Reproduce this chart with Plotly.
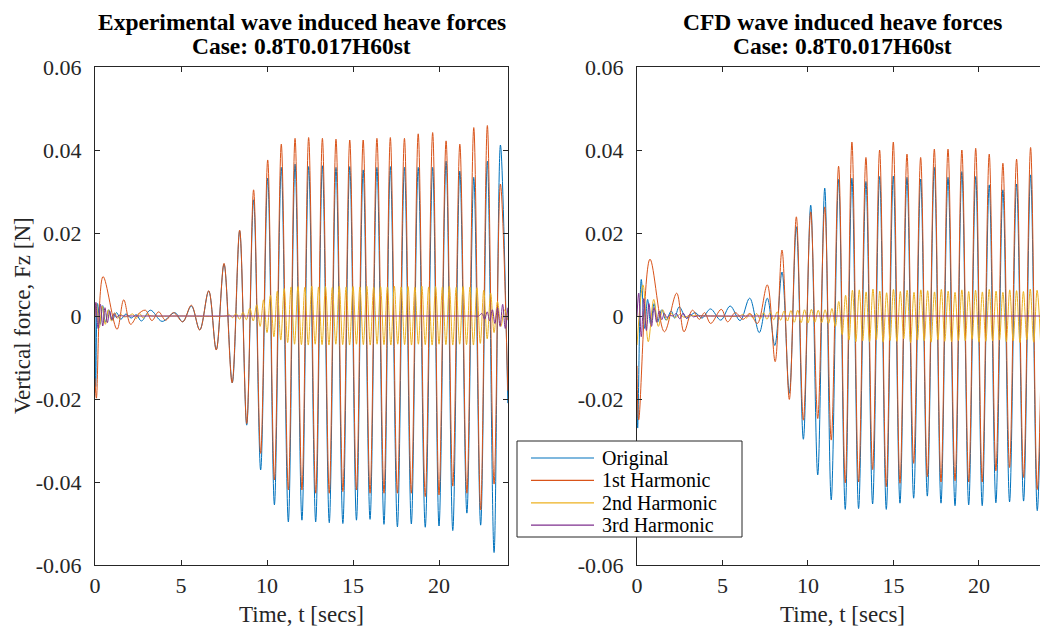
import plotly.graph_objects as go

# ---------------- data (extrema) ----------------
# Experimental (left panel)
exp_orig_t = [0.0, 0.04, 0.15, 0.3, 0.45, 0.6, 0.8, 1.0, 1.25, 1.5, 1.8, 2.1, 2.4, 2.7, 3.22,
              3.9, 4.64, 5.1, 5.6, 6.09, 6.61, 7.05, 7.5, 7.98, 8.41, 8.82, 9.22, 9.63, 10.04, 10.43,
              10.83, 11.24, 11.63, 12.03, 12.42, 12.83, 13.22, 13.62, 14.01, 14.41, 14.81, 15.2, 15.59,
              15.99, 16.39, 16.8, 17.17, 17.58, 17.99, 18.39, 18.79, 19.2, 19.63, 20.0, 20.41, 20.8,
              21.21, 21.62, 22.02, 22.42, 22.81, 23.2, 23.57, 24.0]
exp_orig_v = [0.002, -0.017, 0.003, -0.002, 0.0025, -0.0015, 0.0015, -0.001, 0.0008, -0.0008,
              0.0005, -0.0005, 0.0003, -0.0012, 0.0014, -0.0013, 0.0008, -0.0014, 0.0024, -0.0033,
              0.006, -0.0081, 0.0125, -0.0161, 0.0205, -0.0263, 0.028, -0.0371, 0.0332, -0.0455,
              0.0358, -0.0496, 0.0366, -0.0492, 0.036, -0.0496, 0.0362, -0.0498, 0.0358, -0.05,
              0.036, -0.0492, 0.0352, -0.049, 0.0358, -0.0502, 0.036, -0.0508, 0.0358, -0.0501,
              0.0358, -0.0509, 0.0358, -0.0506, 0.0373, -0.0517, 0.0349, -0.0475, 0.0334, -0.0504,
              0.0373, -0.057, 0.0412, -0.021]

exp_h1_t = [0.0, 0.08, 0.47, 1.28, 1.67, 2.07, 2.5, 2.93, 3.31, 3.7, 4.1, 4.57, 5.1, 5.6, 6.09,
            6.61, 7.05, 7.5, 7.97, 8.41, 8.82, 9.22, 9.63, 10.04, 10.43, 10.83, 11.24, 11.63, 12.03,
            12.42, 12.83, 13.22, 13.62, 14.01, 14.41, 14.81, 15.2, 15.59, 15.99, 16.39, 16.8, 17.17,
            17.58, 17.99, 18.39, 18.79, 19.2, 19.63, 20.0, 20.41, 20.8, 21.21, 21.62, 22.02, 22.42,
            22.81, 23.2, 23.57, 24.0]
exp_h1_v = [-0.015, -0.0198, 0.0095, -0.0032, 0.0039, -0.002, 0.0004, 0.0014, -0.0011, 0.001,
            -0.001, 0.0008, -0.0014, 0.0026, -0.0034, 0.0061, -0.0082, 0.0127, -0.0161, 0.0207,
            -0.0259, 0.0304, -0.0331, 0.0376, -0.0395, 0.0414, -0.0419, 0.0428, -0.0419, 0.043,
            -0.0427, 0.0428, -0.0427, 0.0426, -0.0423, 0.0424, -0.0419, 0.0424, -0.0427, 0.0428,
            -0.0427, 0.043, -0.0427, 0.0428, -0.0427, 0.0439, -0.0435, 0.0442, -0.0431, 0.0422,
            -0.041, 0.0414, -0.0427, 0.0454, -0.0467, 0.0459, -0.0405, 0.0318, -0.018]

exp_h2_t = [0.0, 0.08, 0.25, 0.42, 0.6, 0.78, 0.96, 1.14, 1.32, 1.5, 1.7, 1.95, 2.2, 2.4, 2.6,
            2.8, 3.0, 3.3, 5.0, 7.6,
            7.8, 8.0, 8.2, 8.4, 8.6, 8.8, 9.0, 9.2, 9.4, 9.6, 9.8, 10.0, 10.2, 10.4, 10.6, 10.8,
            11.0, 11.2,
            11.4, 11.6, 11.8, 12.0, 12.2, 12.4, 12.6, 12.8, 13.0, 13.2, 13.4, 13.6, 13.8, 14.0,
            14.2, 14.4, 14.6, 14.8, 15.0, 15.2, 15.4, 15.6, 15.8, 16.0, 16.2, 16.4, 16.6, 16.8,
            17.0, 17.2, 17.4, 17.6, 17.8, 18.0, 18.2, 18.4, 18.6, 18.8, 19.0, 19.2, 19.4, 19.6,
            19.8, 20.0, 20.2, 20.4, 20.6, 20.8, 21.0, 21.2, 21.4, 21.6, 21.8, 22.0, 22.2, 22.4,
            22.6, 22.8, 23.0, 23.2, 23.4, 23.6, 23.8, 24.0]
exp_h2_v = [0.0, 0.003, -0.0028, 0.0024, -0.002, 0.0015, -0.0012, 0.0008, -0.0006, 0.0004,
            -0.0002, 0.0, 0.0005, -0.0006, 0.0006, -0.0005, 0.0003, 0.0, 0.0, 0.0,
            0.0003, -0.0004, 0.0006, -0.0008, 0.0009, -0.0009, 0.0019, -0.0012, 0.0027, -0.0025,
            0.0039, -0.004, 0.005, -0.005, 0.006, -0.0058, 0.0066, -0.0064,
            0.0070, -0.0068, 0.0071, -0.0069, 0.0069, -0.0070, 0.0072, -0.0068, 0.0070, -0.0069,
            0.0071, -0.0070, 0.0069, -0.0068, 0.0072, -0.0069, 0.0070, -0.0070, 0.0071, -0.0068,
            0.0070, -0.0069, 0.0072, -0.0070, 0.0069, -0.0068, 0.0071, -0.0069, 0.0070, -0.0070,
            0.0072, -0.0068, 0.0070, -0.0069, 0.0071, -0.0070, 0.0069, -0.0068, 0.0072, -0.0069,
            0.0070, -0.0070, 0.0071, -0.0068, 0.0070, -0.0069, 0.0072, -0.0070, 0.0069, -0.0068,
            0.0071, -0.0069, 0.0070, -0.0070, 0.0068, -0.0066,
            0.0062, -0.0055, 0.0055, -0.004, 0.0035, -0.0025, 0.0015, -0.001]

exp_h3_t = [0.0, 0.05, 0.18, 0.32, 0.45, 0.58, 0.72, 0.85, 0.98, 1.12, 1.25, 1.4, 1.6, 2.0,
            4.0, 8.0, 12.0, 16.0, 20.0, 22.0, 22.3,
            22.5, 22.65, 22.8, 22.95, 23.1, 23.25, 23.4, 23.55, 23.7, 23.85, 24.0]
exp_h3_v = [0.0, 0.0033, -0.003, 0.0028, -0.0024, 0.002, -0.0016, 0.0012, -0.0009, 0.0006,
            -0.0004, 0.0002, 0.0, 0.0, 0.0, 0.0, 0.0, 0.0, 0.0, 0.0, 0.0,
            0.0006, -0.0008, 0.001, -0.0012, 0.0015, -0.0018, 0.002, -0.0025, 0.0028, -0.003, 0.002]

# CFD (right panel)
cfd_orig_t = [0.0, 0.04, 0.25, 0.45, 0.62, 0.8, 1.0, 1.2, 1.45, 1.7, 2.0, 2.2, 2.47, 2.9, 3.4,
              3.8, 4.3, 4.9, 5.45, 6.03, 6.59, 7.15, 7.62, 8.06, 8.48, 8.91, 9.32, 9.73, 10.16,
              10.57, 10.98, 11.36, 11.79, 12.18, 12.57, 12.96, 13.39, 13.78, 14.19, 14.58, 14.99,
              15.38, 15.79, 16.18, 16.59, 16.98, 17.39, 17.78, 18.19, 18.6, 19.0, 19.4, 19.81,
              20.19, 20.6, 20.99, 21.4, 21.79, 22.2, 22.61, 23.02, 23.41, 23.8]
cfd_orig_v = [-0.018, -0.027, 0.0088, -0.003, 0.004, -0.002, 0.003, -0.0015, 0.0015, -0.001,
              0.0012, -0.0005, 0.0022, -0.0005, 0.0008, -0.0005, 0.0017, -0.001, 0.0024, -0.0011,
              0.0043, -0.004, 0.0043, -0.0071, 0.0106, -0.0186, 0.0215, -0.0297, 0.0267, -0.0383,
              0.0308, -0.0443, 0.0329, -0.0466, 0.0332, -0.0464, 0.0324, -0.0453, 0.0336, -0.0466,
              0.0337, -0.0451, 0.0334, -0.0439, 0.033, -0.0434, 0.0358, -0.0451, 0.0334, -0.0457,
              0.0348, -0.0455, 0.0336, -0.0457, 0.0316, -0.045, 0.0304, -0.0448, 0.0318, -0.0446,
              0.034, -0.0469, 0.028]

cfd_h1_t = [0.0, 0.1, 0.76, 1.6, 2.32, 2.75, 3.24, 3.65, 3.95, 4.31, 4.93, 5.3, 5.75, 6.2, 6.6,
            7.04, 7.62, 8.08, 8.48, 8.91, 9.32, 9.73, 10.16, 10.57, 10.98, 11.36, 11.79, 12.18,
            12.57, 12.96, 13.39, 13.78, 14.19, 14.58, 14.99, 15.38, 15.79, 16.18, 16.59, 16.98,
            17.39, 17.78, 18.19, 18.6, 19.0, 19.4, 19.81, 20.19, 20.6, 20.99, 21.4, 21.79, 22.2,
            22.61, 23.02, 23.41, 23.8]
cfd_h1_v = [-0.012, -0.025, 0.0137, -0.0038, 0.0055, -0.0038, 0.0014, -0.0008, 0.0008, -0.0018,
            0.0016, -0.0014, 0.0008, -0.0008, 0.0006, -0.0018, 0.0075, -0.011, 0.0159, -0.0201,
            0.0239, -0.0251, 0.0251, -0.0247, 0.0263, -0.0299, 0.0361, -0.0402, 0.0419, -0.04,
            0.0382, -0.037, 0.04, -0.0411, 0.0419, -0.0403, 0.039, -0.0355, 0.0382, -0.0387,
            0.0402, -0.04, 0.0402, -0.0397, 0.04, -0.04, 0.0404, -0.04, 0.039, -0.0373,
            0.0368, -0.0365, 0.0378, -0.0389, 0.0406, -0.0418, 0.03]

cfd_h2_t = [0.0, 0.35, 0.66, 0.98, 1.25, 1.5, 1.75, 2.0, 2.25, 2.5, 2.75, 3.0, 4.5, 6.0, 6.2, 6.4,
            6.6, 6.8, 7.0, 7.2, 7.4, 7.6, 7.8, 8.0, 8.2, 8.4, 8.6, 8.8, 9.0, 9.2, 9.4, 9.6, 9.8,
            10.0, 10.2, 10.4, 10.6, 10.8, 11.0, 11.2, 11.4, 11.6, 11.8, 12.0, 12.2, 12.4, 12.6,
            12.8,
            13.0, 13.2, 13.4, 13.6, 13.8, 14.0, 14.2, 14.4, 14.6, 14.8, 15.0, 15.2, 15.4, 15.6,
            15.8, 16.0, 16.2, 16.4, 16.6, 16.8, 17.0, 17.2, 17.4, 17.6, 17.8, 18.0, 18.2, 18.4,
            18.6, 18.8, 19.0, 19.2, 19.4, 19.6, 19.8, 20.0, 20.2, 20.4, 20.6, 20.8, 21.0, 21.2,
            21.4, 21.6, 21.8, 22.0, 22.2, 22.4, 22.6, 22.8, 23.0, 23.2, 23.4, 23.6]
cfd_h2_v = [-0.007, 0.0075, -0.0062, 0.004, -0.0025, 0.0015, -0.001, 0.0006, -0.0004, 0.0004,
            -0.0003, 0.0, 0.0, 0.0, 0.0004, -0.0005, 0.0005, -0.0006, 0.0006, -0.0007, 0.0008,
            -0.0008, 0.0009, -0.0009, 0.001, -0.001, 0.0012, -0.0012, 0.0013, -0.0015, 0.0014,
            -0.0016, 0.0015, -0.0017, 0.0016, -0.0015, 0.0014, -0.0016, 0.0015, -0.0018, 0.0018,
            -0.0025, 0.0035, -0.0045, 0.005, -0.0058, 0.0062, -0.0062,
            0.0063, -0.0060, 0.0058, -0.0062, 0.0065, -0.0057, 0.0060, -0.0063, 0.0056, -0.0059,
            0.0064, -0.0061, 0.0059, -0.0055, 0.0062, -0.0064, 0.0057, -0.0058, 0.0063, -0.0060,
            0.0061, -0.0063, 0.0058, -0.0057, 0.0064, -0.0061, 0.0060, -0.0062, 0.0057, -0.0059,
            0.0063, -0.0060, 0.0059, -0.0056, 0.0062, -0.0063, 0.0058, -0.0061, 0.0064, -0.0060,
            0.0060, -0.0058, 0.0057, -0.0062, 0.0063, -0.0060, 0.0061, -0.0064, 0.0059, -0.0057,
            0.0065, -0.0063, 0.0062, -0.0060]

cfd_h3_t = [0.0, 0.1, 0.25, 0.4, 0.55, 0.7, 0.85, 1.0, 1.15, 1.3, 1.45, 1.6, 1.75, 1.9, 2.1,
            2.3, 2.5, 2.7, 2.9, 3.1, 3.3, 3.5, 4.0, 8.0, 12.0, 16.0, 20.0, 23.8]
cfd_h3_v = [0.0, 0.0055, -0.005, 0.0042, -0.0035, 0.003, -0.0025, 0.002, -0.0015, 0.0012,
            -0.0009, 0.0006, -0.0004, 0.0002, 0.0, 0.0006, -0.0007, 0.0007, -0.0006, 0.0004,
            -0.0002, 0.0, 0.0, 0.0, 0.0, 0.0, 0.0, 0.0]

series_names = ["Original", "1st Harmonic", "2nd Harmonic", "3rd Harmonic"]
series_colors = ["#0072BD", "#D95319", "#EDB120", "#7E2F8E"]

panel_titles = ["Experimental wave induced heave forces", "CFD wave induced heave forces"]
case_label = "Case: 0.8T0.017H60st"
x_title = "Time, t [secs]"
y_title = "Vertical force, Fz [N]"

x_tickvals = [0, 5, 10, 15, 20]
x_ticktext = ["0", "5", "10", "15", "20"]
y_tickvals = [-0.06, -0.04, -0.02, 0.0, 0.02, 0.04, 0.06]
y_ticktext_left = ["-0.06", "-0.04", "-0.02", "0", "0.02", "0.04", "0.06"]
# on the right panel the -0.04 label is hidden behind the legend box
y_ticktext_right = ["-0.06", "", "-0.02", "0", "0.02", "0.04", "0.06"]

# ---------------- figure ----------------
W, H = 1040, 630
FONT = "Liberation Serif"
AX = "#262626"


def px(x):
    return x / W


def py(y):
    return 1 - y / H


panels = [
    [(exp_orig_t, exp_orig_v), (exp_h1_t, exp_h1_v), (exp_h2_t, exp_h2_v), (exp_h3_t, exp_h3_v)],
    [(cfd_orig_t, cfd_orig_v), (cfd_h1_t, cfd_h1_v), (cfd_h2_t, cfd_h2_v), (cfd_h3_t, cfd_h3_v)],
]

fig = go.Figure()
for p, series in enumerate(panels):
    xa = "x" if p == 0 else "x2"
    ya = "y" if p == 0 else "y2"
    for (t, v), name, col in zip(series, series_names, series_colors):
        assert len(t) == len(v), (name, len(t), len(v))
        fig.add_trace(go.Scatter(
            x=t, y=v, mode="lines", name=name, xaxis=xa, yaxis=ya,
            line=dict(color=col, width=1, shape="spline", smoothing=1.0),
            showlegend=False, hoverinfo="skip"))

y_dom = [py(565), py(67)]
common_x = dict(showgrid=False, zeroline=False, showline=True, linecolor=AX, linewidth=1,
                ticks="inside", ticklen=5, tickwidth=1, tickcolor=AX, automargin=False,
                tickvals=x_tickvals, ticktext=x_ticktext,
                tickfont=dict(family=FONT, size=22, color=AX), ticklabelstandoff=1)
common_y = dict(showgrid=False, zeroline=False, showline=True, linecolor=AX, linewidth=1,
                ticks="inside", ticklen=5, tickwidth=1, tickcolor=AX, automargin=False,
                tickvals=y_tickvals, range=[-0.06, 0.06],
                tickfont=dict(family=FONT, size=22, color=AX), ticklabelstandoff=8)

fig.update_layout(
    template="none",
    font=dict(family=FONT, color=AX),
    width=W, height=H, margin=dict(l=0, r=0, t=0, b=0, pad=0, autoexpand=False),
    paper_bgcolor="white", plot_bgcolor="white", showlegend=False,
    xaxis=dict(domain=[px(95), px(508)], range=[0, 24.01], mirror="ticks", anchor="y", **common_x),
    yaxis=dict(domain=y_dom, mirror="ticks", anchor="x", ticktext=y_ticktext_left, **common_y),
    xaxis2=dict(domain=[px(637), 1.0], range=[0, 23.57], mirror="ticks", anchor="y2", **common_x),
    yaxis2=dict(domain=y_dom, mirror=False, anchor="x2", ticktext=y_ticktext_right, **common_y),
)

ann = []
for cx, title in zip([301.5, 842], panel_titles):
    ann.append(dict(text="<b>" + title + "</b>", x=px(cx), y=py(22), xref="paper", yref="paper",
                    xanchor="center", yanchor="middle", showarrow=False,
                    font=dict(family=FONT, size=23.5, color="black")))
    ann.append(dict(text="<b>" + case_label + "</b>", x=px(cx), y=py(46), xref="paper", yref="paper",
                    xanchor="center", yanchor="middle", showarrow=False,
                    font=dict(family=FONT, size=23.5, color="black")))
    ann.append(dict(text=x_title, x=px(cx), y=py(614), xref="paper", yref="paper",
                    xanchor="center", yanchor="middle", showarrow=False,
                    font=dict(family=FONT, size=23, color=AX)))
ann.append(dict(text=y_title, x=px(22), y=py(316), xref="paper", yref="paper", textangle=-90,
                xanchor="center", yanchor="middle", showarrow=False,
                font=dict(family=FONT, size=23, color=AX)))

# legend box (drawn above axes)
shapes = [dict(type="rect", xref="paper", yref="paper", x0=px(517), x1=px(742), y0=py(537), y1=py(441),
               fillcolor="white", line=dict(color=AX, width=1), layer="above")]
for i, (name, col) in enumerate(zip(series_names, series_colors)):
    yy = 458 + i * 22.4
    shapes.append(dict(type="line", xref="paper", yref="paper", x0=px(531), x1=px(594),
                       y0=py(yy), y1=py(yy), line=dict(color=col, width=1.2), layer="above"))
    ann.append(dict(text=name, x=px(600), y=py(yy), xref="paper", yref="paper",
                    xanchor="left", yanchor="middle", showarrow=False,
                    font=dict(family=FONT, size=20, color="black")))

fig.update_layout(annotations=ann, shapes=shapes)
fig.write_html("out.html")
